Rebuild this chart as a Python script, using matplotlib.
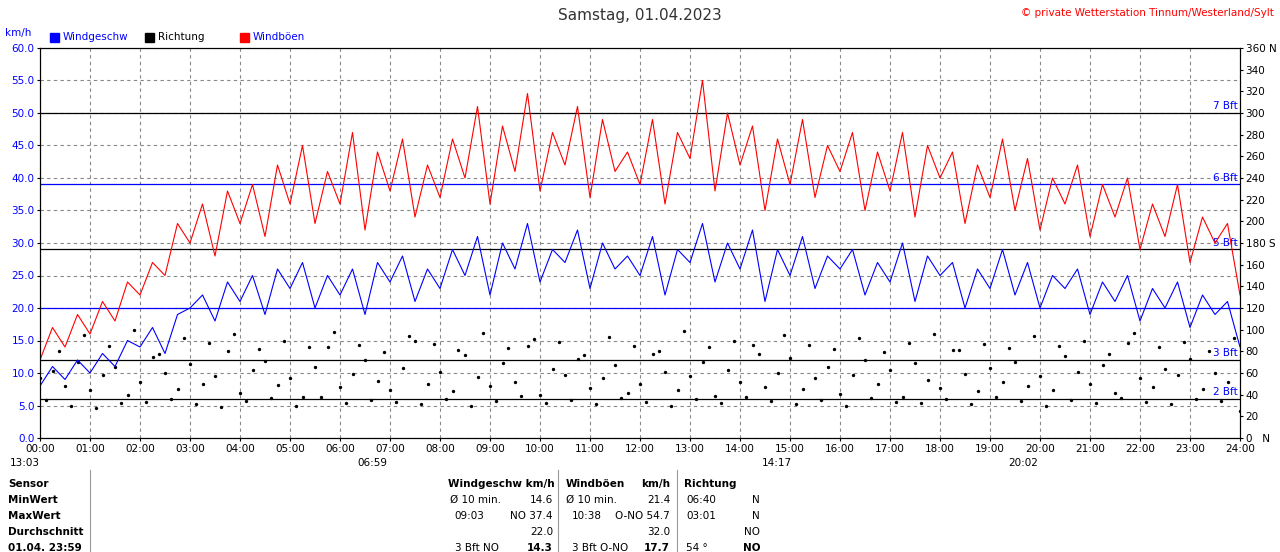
import matplotlib
matplotlib.use("Agg")
import matplotlib.pyplot as plt
import numpy as np

# 15-minute samples, 00:00 .. 24:00
speed = [8,11,9,12,10,13,11,15,14,17,13,19,20,22,18,24,
         21,25,19,26,23,27,20,25,22,26,19,27,24,28,21,26,
         23,29,25,31,22,30,26,33,24,29,27,32,23,30,26,28,
         25,31,22,29,27,33,24,30,26,32,21,29,25,31,23,28,
         26,29,22,27,24,30,21,28,25,27,20,26,23,29,22,27,
         20,25,23,26,19,24,21,25,18,23,20,24,17,22,19,21,
         14,19,16,21,13,18,15,20,14,19,16,21,13,18,15,20,
         14,19,13,18,15,17,14,16,15]
gust = [12,17,14,19,16,21,18,24,22,27,25,33,30,36,28,38,
        33,39,31,42,36,45,33,41,36,47,32,44,38,46,34,42,
        37,46,40,51,36,48,41,53,38,47,42,51,37,49,41,44,
        39,49,36,47,43,55,38,50,42,48,35,46,39,49,37,45,
        41,47,35,44,38,47,34,45,40,44,33,42,37,46,35,43,
        32,40,36,42,31,39,34,40,29,36,31,39,27,34,30,33,
        22,29,25,31,21,28,24,30,22,29,26,31,21,28,24,30,
        22,28,20,27,23,25,21,24,23]
# wind direction in degrees, 15-minute samples
direction = [55,62,48,70,44,58,66,40,52,75,60,45,68,50,57,80,
             42,63,71,49,55,38,66,84,47,59,72,53,44,65,90,50,
             61,43,77,56,48,69,52,85,40,64,58,73,46,55,67,42,
             50,78,61,44,57,70,39,63,52,86,47,60,74,45,55,66,
             41,58,72,50,63,38,69,54,46,81,59,43,65,52,70,48,
             57,44,76,61,50,67,42,88,55,47,64,58,73,45,60,52,
             25,28,22,35,18,40,30,24,45,20,38,27,15,33,42,26,
             19,36,28,22,31,17,25,20,30]
direction2 = [35,80,30,95,28,85,32,100,33,78,36,92,31,88,29,96,
              34,82,37,90,30,84,38,98,32,86,35,79,33,94,31,87,
              36,81,30,97,34,83,39,91,32,89,35,77,31,93,37,85,
              33,80,30,99,36,84,32,90,38,78,34,95,31,86,35,82,
              30,92,37,79,33,88,32,96,36,81,31,87,38,83,34,94,
              30,85,35,90,32,78,37,97,33,84,31,89,36,80,34,92,
              10,50,8,45,12,55,6,48,14,52,9,47,11,53,7,44,
              13,49,10,46,12,51,8,43,30]

hours = ["00:00","01:00","02:00","03:00","04:00","05:00","06:00","07:00","08:00",
         "09:00","10:00","11:00","12:00","13:00","14:00","15:00","16:00","17:00",
         "18:00","19:00","20:00","21:00","22:00","23:00","24:00"]
bft_lines = [(6, "2 Bft", "black"), (12, "3 Bft", "black"), (20, "", "blue"),
             (29, "5 Bft", "black"), (39, "6 Bft", "blue"), (50, "7 Bft", "black")]

fig = plt.figure(figsize=(12.8, 5.52), dpi=100)
ax = fig.add_axes([40/1280, 1-438/552, 1200/1280, 390/552])
t = np.arange(len(speed)) * 0.25

for y in np.arange(0, 61, 5):
    ax.axhline(y, color="#888888", ls=(0, (3, 3)), lw=0.8, zorder=0)
for h in range(25):
    ax.axvline(h, color="#888888", ls=(0, (3, 3)), lw=0.8, zorder=0)
for y, lab, c in bft_lines:
    ax.axhline(y, color=c, lw=0.9, zorder=1)
    if lab:
        ax.text(23.95, y + 0.3, lab, color="blue", fontsize=7.5, ha="right", va="bottom")

td = np.arange(len(direction)) * 0.25
ax.scatter(td, np.array(direction) / 6, s=2, color="black", zorder=2)
ax.scatter(td + 0.12, np.array(direction2) / 6, s=2, color="black", zorder=2)
ax.plot(t, gust, color="red", lw=0.8, zorder=3)
ax.plot(t, speed, color="blue", lw=0.8, zorder=4)

ax.set_xlim(0, 24)
ax.set_ylim(0, 60)
ax.set_xticks(range(25))
ax.set_xticklabels(hours, fontsize=7.5)
ax.set_yticks(np.arange(0, 61, 5))
ax.set_yticklabels([f"{v:.1f}" for v in np.arange(0, 61, 5)], fontsize=7.5, color="blue")
ax.tick_params(length=2, pad=2)
ax2 = ax.twinx()
ax2.set_ylim(0, 360)
ticks = np.arange(0, 361, 20)
labs = [str(v) for v in ticks]
labs[0] = "0   N"; labs[9] = "180 S"; labs[-1] = "360 N"
ax2.set_yticks(ticks)
ax2.set_yticklabels(labs, fontsize=7.5)
ax2.tick_params(length=2, pad=2)

fig.text(0.5, 0.985, "Samstag, 01.04.2023", ha="center", va="top", fontsize=11, color="#333333")
fig.text(0.995, 0.985, "© private Wetterstation Tinnum/Westerland/Sylt", ha="right", va="top",
         fontsize=7.5, color="red")
fig.text(5/1280, 1-33/552, "km/h", fontsize=7.5, color="blue", va="center")
for x, c, lab in [(50, "blue", "Windgeschw"), (145, "black", "Richtung"), (240, "red", "Windböen")]:
    fig.patches.append(plt.Rectangle((x/1280, 1-42/552), 9/1280, 9/552, color=c,
                                     transform=fig.transFigure, figure=fig))
    fig.text((x+13)/1280, 1-37/552, lab, fontsize=7.5, color="blue" if c != "black" else "black", va="center")

# sun / moon times
for x, s in [(10, "13:03"), (357, "06:59"), (762, "14:17"), (1008, "20:02")]:
    fig.text(x/1280, 1-463/552, s, fontsize=7.5, va="center")

# table
rows = [("Sensor", 484), ("MinWert", 500), ("MaxWert", 516), ("Durchschnitt", 532), ("01.04. 23:59", 548)]
for lab, y in rows:
    fig.text(8/1280, 1-y/552, lab, fontsize=7.5, weight="bold", va="center")
cells = [
    (448, 484, "Windgeschw km/h", "left", True), (566, 484, "Windböen", "left", True),
    (670, 484, "km/h", "right", True), (684, 484, "Richtung", "left", True),
    (450, 500, "Ø 10 min.", "left", False), (553, 500, "14.6", "right", False),
    (566, 500, "Ø 10 min.", "left", False), (670, 500, "21.4", "right", False),
    (686, 500, "06:40", "left", False), (760, 500, "N", "right", False),
    (454, 516, "09:03", "left", False), (553, 516, "NO 37.4", "right", False),
    (572, 516, "10:38", "left", False), (670, 516, "O-NO 54.7", "right", False),
    (686, 516, "03:01", "left", False), (760, 516, "N", "right", False),
    (553, 532, "22.0", "right", False), (670, 532, "32.0", "right", False),
    (760, 532, "NO", "right", False),
    (455, 548, "3 Bft NO", "left", False), (553, 548, "14.3", "right", True),
    (572, 548, "3 Bft O-NO", "left", False), (670, 548, "17.7", "right", True),
    (686, 548, "54 °", "left", False), (760, 548, "NO", "right", True),
]
for x, y, s, ha, b in cells:
    fig.text(x/1280, 1-y/552, s, fontsize=7.5, ha=ha, va="center", weight="bold" if b else "normal")
for x in [90, 558, 677]:
    fig.add_artist(plt.Line2D([x/1280, x/1280], [0, 1-470/552], color="#999999", lw=0.8))

fig.savefig("out.png", dpi=100, facecolor="white")
